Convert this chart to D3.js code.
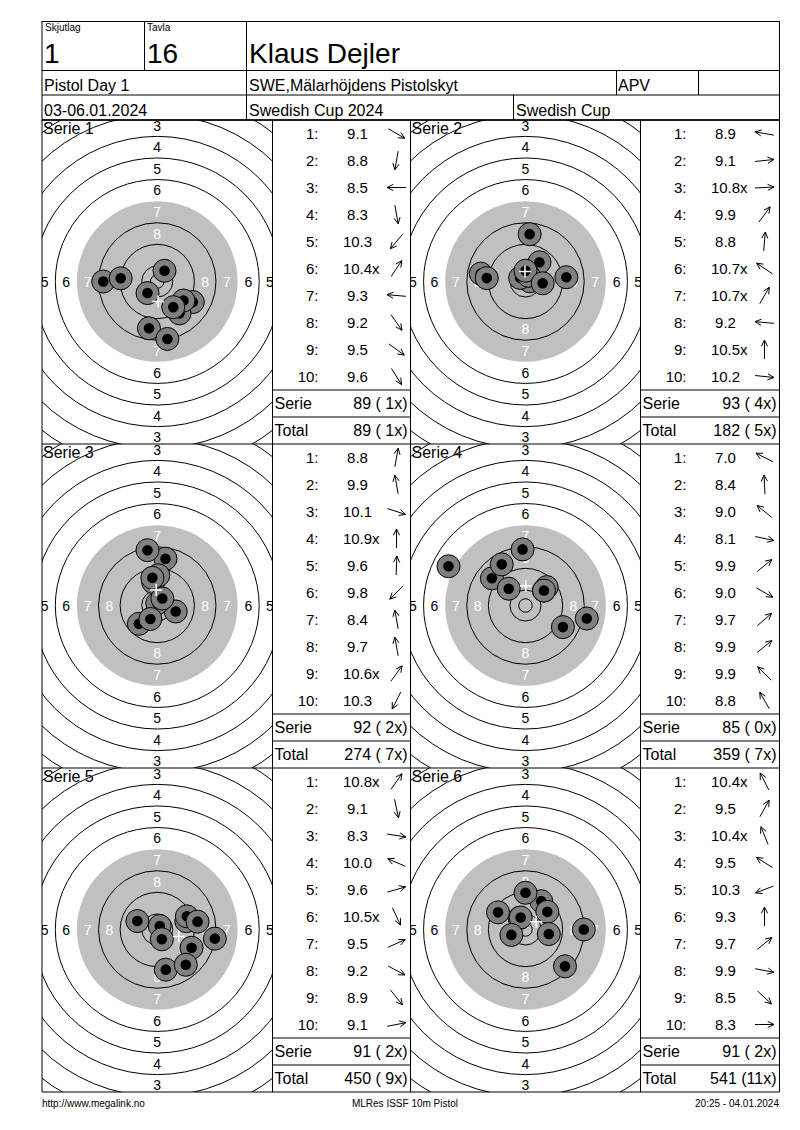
<!DOCTYPE html>
<html>
<head>
<meta charset="utf-8">
<script src="https://cdn.jsdelivr.net/npm/d3@7"></script>
<style>
  body { margin: 0; background: #fff; }
  svg { display: block; font-family: "Liberation Sans", Arial, sans-serif; }
  .pre { white-space: pre; }
</style>
</head>
<body>
<div id="sheet"></div>
<script>
// 헤더 데이터
const headerLabels = ['Skjutlag', 'Tavla'];
const headerValues = ['1', '16'];
const shooterName = 'Klaus Dejler';
const row2Texts = ['Pistol Day 1', 'SWE,Mälarhöjdens Pistolskyt', 'APV', ''];
const row3Texts = ['03-06.01.2024', 'Swedish Cup 2024', 'Swedish Cup'];
const footerTexts = ['http://www.megalink.no', 'MLRes ISSF 10m Pistol', '20:25 - 04.01.2024'];

// 시리즈별 점수 (x = inner ten)
const serieNames = ['Serie 1', 'Serie 2', 'Serie 3', 'Serie 4', 'Serie 5', 'Serie 6'];
const serie1Scores = ['9.1', '8.8', '8.5', '8.3', '10.3', '10.4x', '9.3', '9.2', '9.5', '9.6'];
const serie2Scores = ['8.9', '9.1', '10.8x', '9.9', '8.8', '10.7x', '10.7x', '9.2', '10.5x', '10.2'];
const serie3Scores = ['8.8', '9.9', '10.1', '10.9x', '9.6', '9.8', '8.4', '9.7', '10.6x', '10.3'];
const serie4Scores = ['7.0', '8.4', '9.0', '8.1', '9.9', '9.0', '9.7', '9.9', '9.9', '8.8'];
const serie5Scores = ['10.8x', '9.1', '8.3', '10.0', '9.6', '10.5x', '9.5', '9.2', '8.9', '9.1'];
const serie6Scores = ['10.4x', '9.5', '10.4x', '9.5', '10.3', '9.3', '9.7', '9.9', '8.5', '8.3'];

// 탄착 방향 (도, 0 = 오른쪽, 90 = 위) - 표의 화살표에서 읽음
const serie1Angles = [-30, -100, 180, -80, 230, 56, 175, -55, -36, -58];
const serie2Angles = [170, 6, 3, 54, 85, 146, 60, 175, 90, -6];
const serie3Angles = [80, 100, -18, 90, 88, 225, 100, 100, 54, 243];
const serie4Angles = [153, 93, 141, -12, 39, -30, 41, 39, 135, 120];
const serie5Angles = [55, -78, -9, 157, 16, -65, 24, -28, -51, 11];
const serie6Angles = [117, 61, 112, 148, 201, 90, 39, -11, -43, 0];

// 표적 링
const ringNumbers = [1, 2, 3, 4, 5, 6, 7, 8, 9, 10];
const ringLabels = [1, 2, 3, 4, 5, 6, 7, 8];

(function() {
  'use strict';

  const W = 800, H = 1130;
  const headerY = [21.5, 70.5, 95, 120];
  const colX = [42, 272.5, 410.5, 640.5, 779.5];
  const gridTop = 120;
  const panelH = 324;
  const rowH = 27;

  const allScores = [serie1Scores, serie2Scores, serie3Scores, serie4Scores, serie5Scores, serie6Scores];
  const allAngles = [serie1Angles, serie2Angles, serie3Angles, serie4Angles, serie5Angles, serie6Angles];

  // mm -> px 스케일
  const mm = d3.scaleLinear().domain([0, 100]).range([0, 270]);
  const ringRadius = n => 5.75 + (10 - n) * 8;
  const innerTen = 2.5;

  const svg = d3.select('#sheet')
    .append('svg')
    .attr('width', W)
    .attr('height', H);

  const defs = svg.append('defs');

  /**
   * 선 그리기 헬퍼
   */
  function line(g, x1, y1, x2, y2) {
    g.append('line')
      .attr('x1', x1).attr('y1', y1)
      .attr('x2', x2).attr('y2', y2)
      .attr('stroke', '#000')
      .attr('stroke-width', 1);
  }

  function text(g, x, y, str, size, anchor) {
    return g.append('text')
      .attr('x', x)
      .attr('y', y)
      .attr('font-size', size + 'px')
      .attr('text-anchor', anchor || 'start')
      .attr('fill', '#000')
      .attr('class', 'pre')
      .text(str);
  }

  /**
   * 헤더 그리기
   */
  function drawHeader() {
    const g = svg.append('g');
    const L = colX[0], R = colX[4];

    g.append('rect')
      .attr('x', L).attr('y', headerY[0])
      .attr('width', R - L).attr('height', gridTop - headerY[0])
      .attr('fill', 'none').attr('stroke', '#000');

    headerY.slice(1).forEach(y => line(g, L, y, R, y));

    // 1행
    line(g, 144.5, headerY[0], 144.5, headerY[1]);
    line(g, 246.5, headerY[0], 246.5, headerY[2]);
    text(g, 45, 31, headerLabels[0], 10);
    text(g, 147, 31, headerLabels[1], 10);
    text(g, 44, 63, headerValues[0], 28);
    text(g, 147, 63, headerValues[1], 28);
    text(g, 249, 63, shooterName, 28);

    // 2행
    line(g, 616.5, headerY[1], 616.5, headerY[2]);
    line(g, 698.5, headerY[1], 698.5, headerY[2]);
    const row2X = [44, 249, 618, 701];
    row2Texts.forEach((t, i) => text(g, row2X[i], 91, t, 16));

    // 3행
    line(g, 246.5, headerY[2], 246.5, headerY[3]);
    line(g, 513.5, headerY[2], 513.5, headerY[3]);
    const row3X = [44, 249, 516];
    row3Texts.forEach((t, i) => text(g, row3X[i], 116, t, 16));
  }

  /**
   * 탄착 좌표 계산 (점수 -> 중심 거리)
   */
  function shotPoints(scores, angles) {
    return scores.map((s, i) => {
      const value = parseFloat(s);
      const d = mm((11 - value) * 8);
      const a = angles[i] * Math.PI / 180;
      return { dx: d * Math.cos(a), dy: -d * Math.sin(a) };
    });
  }

  /**
   * 표적 그리기
   */
  function drawTarget(idx, x0, y0, x1, y1) {
    const cx = (x0 + x1) / 2;
    const cy = y0 + 161.5;

    defs.append('clipPath')
      .attr('id', `clip-${idx}`)
      .append('rect')
      .attr('x', x0).attr('y', y0)
      .attr('width', x1 - x0).attr('height', y1 - y0);

    const g = svg.append('g').attr('clip-path', `url(#clip-${idx})`);

    // 검은 영역 (회색)
    g.append('circle')
      .attr('cx', cx).attr('cy', cy)
      .attr('r', mm(ringRadius(7)))
      .attr('fill', '#c0c0c0');

    // 링
    g.selectAll('.ring')
      .data(ringNumbers.filter(n => n !== 7))
      .enter()
      .append('circle')
      .attr('class', 'ring')
      .attr('cx', cx).attr('cy', cy)
      .attr('r', d => mm(ringRadius(d)))
      .attr('fill', 'none')
      .attr('stroke', '#000')
      .attr('stroke-width', 1);

    g.append('circle')
      .attr('cx', cx).attr('cy', cy)
      .attr('r', mm(innerTen))
      .attr('fill', 'none')
      .attr('stroke', '#000')
      .attr('stroke-width', 1);

    // 링 번호 (칸 안에 들어오는 것만)
    const dirs = [[0, -1], [0, 1], [-1, 0], [1, 0]];
    ringLabels.forEach(n => {
      const r = mm((ringRadius(n) + ringRadius(n + 1)) / 2);
      dirs.forEach(([ux, uy]) => {
        const lx = cx + ux * r;
        const ly = cy + uy * r;
        if (lx < x0 || lx > x1 || ly < y0 || ly > y1) return;
        g.append('text')
          .attr('x', lx)
          .attr('y', ly)
          .attr('dy', '0.36em')
          .attr('text-anchor', 'middle')
          .attr('font-size', '14px')
          .attr('fill', n >= 7 ? '#fff' : '#000')
          .text(n);
      });
    });

    // 탄착
    const pts = shotPoints(allScores[idx], allAngles[idx]);
    const shots = g.selectAll('.shot')
      .data(pts)
      .enter()
      .append('g')
      .attr('class', 'shot')
      .attr('transform', d => `translate(${cx + d.dx},${cy + d.dy})`);

    shots.append('circle')
      .attr('r', 11.5)
      .attr('fill', '#808080')
      .attr('stroke', '#000')
      .attr('stroke-width', 1);

    shots.append('circle')
      .attr('r', 5.3)
      .attr('fill', '#000');

    // 평균 탄착점
    const mx = cx + d3.mean(pts, d => d.dx);
    const my = cy + d3.mean(pts, d => d.dy);
    g.append('path')
      .attr('d', `M${mx - 6},${my}H${mx + 6}M${mx},${my - 6}V${my + 6}`)
      .attr('stroke', '#fff')
      .attr('stroke-width', 1.5);

    // 시리즈 이름
    text(g, x0 + 1, y0 + 14, serieNames[idx], 16);
  }

  /**
   * 화살표 경로
   */
  function arrowPath(ax, ay, angle) {
    const a = angle * Math.PI / 180;
    const ux = Math.cos(a), uy = -Math.sin(a);
    const half = 9.5;
    const tx = ax + ux * half, ty = ay + uy * half;
    const sx = ax - ux * half, sy = ay - uy * half;
    const head = 7, spread = 26 * Math.PI / 180;
    const h1x = tx - head * (ux * Math.cos(spread) - uy * Math.sin(spread));
    const h1y = ty - head * (ux * Math.sin(spread) + uy * Math.cos(spread));
    const h2x = tx - head * (ux * Math.cos(-spread) - uy * Math.sin(-spread));
    const h2y = ty - head * (ux * Math.sin(-spread) + uy * Math.cos(-spread));
    return `M${sx},${sy}L${tx},${ty}M${h1x},${h1y}L${tx},${ty}L${h2x},${h2y}`;
  }

  /**
   * 점수 표 그리기
   */
  function drawTable(idx, x0, y0, x1, cum) {
    const g = svg.append('g');
    const scores = allScores[idx];
    const angles = allAngles[idx];

    scores.forEach((s, i) => {
      const yc = y0 + rowH * i + rowH / 2;
      text(g, x0 + 46, yc, `${i + 1}:`, 15, 'end').attr('dy', '0.36em');

      const num = s.replace('x', '');
      const t = text(g, x0 + 85, yc, num, 15, 'middle').attr('dy', '0.36em');
      if (s.endsWith('x')) {
        const w = t.node().getComputedTextLength();
        text(g, x0 + 85 + w / 2, yc, 'x', 15).attr('dy', '0.36em');
      }

      g.append('path')
        .attr('d', arrowPath(x0 + 124, yc, angles[i]))
        .attr('fill', 'none')
        .attr('stroke', '#000')
        .attr('stroke-width', 1);
    });

    const serieSum = d3.sum(scores, s => Math.floor(parseFloat(s)));
    const serieX = scores.filter(s => s.endsWith('x')).length;
    cum.sum += serieSum;
    cum.x += serieX;

    const yS = y0 + rowH * 10;
    const yT = y0 + rowH * 11;
    line(g, x0, yS, x1, yS);
    line(g, x0, yT, x1, yT);

    text(g, x0 + 2, yS + rowH / 2, 'Serie', 16).attr('dy', '0.36em');
    text(g, x1 - 3, yS + rowH / 2, `${serieSum} (${String(serieX).padStart(2, ' ')}x)`, 16, 'end').attr('dy', '0.36em');
    text(g, x0 + 2, yT + rowH / 2, 'Total', 16).attr('dy', '0.36em');
    text(g, x1 - 3, yT + rowH / 2, `${cum.sum} (${String(cum.x).padStart(2, ' ')}x)`, 16, 'end').attr('dy', '0.36em');
  }

  /**
   * 본문 그리드 그리기
   */
  function drawGrid() {
    const cum = { sum: 0, x: 0 };
    for (let r = 0; r < 3; r++) {
      const y0 = gridTop + r * panelH;
      const y1 = y0 + panelH;
      for (let c = 0; c < 2; c++) {
        const idx = r * 2 + c;
        drawTarget(idx, colX[c * 2], y0, colX[c * 2 + 1], y1);
        drawTable(idx, colX[c * 2 + 1], y0, colX[c * 2 + 2], cum);
      }
    }

    const g = svg.append('g');
    const bottom = gridTop + panelH * 3;
    colX.forEach(x => line(g, x, gridTop, x, bottom));
    for (let r = 0; r <= 3; r++) {
      line(g, colX[0], gridTop + r * panelH, colX[4], gridTop + r * panelH);
    }
  }

  /**
   * 하단 텍스트
   */
  function drawFooter() {
    const g = svg.append('g');
    text(g, 42, 1107, footerTexts[0], 10);
    text(g, 405, 1107, footerTexts[1], 10, 'middle');
    text(g, 779, 1107, footerTexts[2], 10, 'end');
  }

  drawHeader();
  drawGrid();
  drawFooter();
})();
</script>
</body>
</html>
